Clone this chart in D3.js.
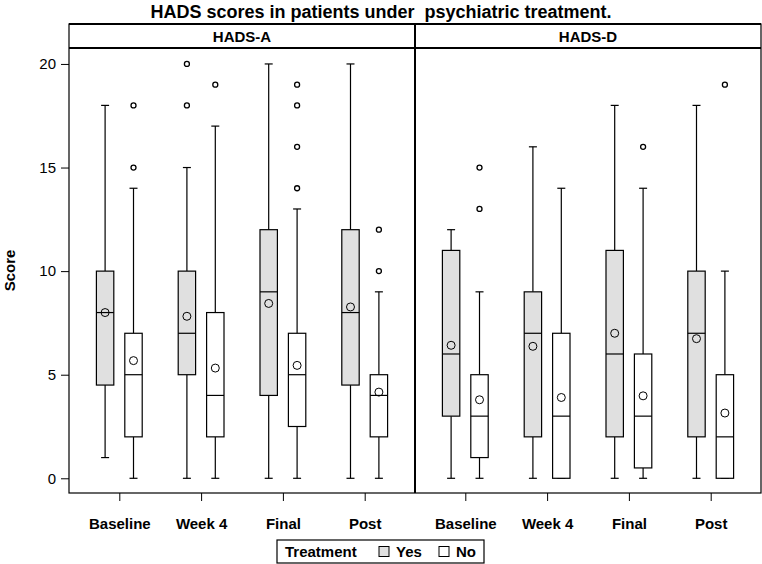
<!DOCTYPE html>
<html>
<head>
<meta charset="utf-8">
<script src="https://cdn.jsdelivr.net/npm/d3@7"></script>
<style>
  html, body { margin: 0; padding: 0; background: #fff; }
  svg { display: block; font-family: "Liberation Sans", Arial, Helvetica, sans-serif; }
</style>
</head>
<body>
<svg id="chart" width="762" height="564"></svg>
<script>
// ---- data ----
const title = "HADS scores in patients under  psychiatric treatment.";
const panels = ["HADS-A", "HADS-D"];
const visits = ["Baseline", "Week 4", "Final", "Post"];
const groups = ["Yes", "No"];
const yTicks = [0, 5, 10, 15, 20];
const yLabel = "Score";
const legendTitle = "Treatment";

// [lower whisker, Q1, median, Q3, upper whisker] per visit
const hadsA_yes = [[1, 4.5, 8, 10, 18], [0, 5, 7, 10, 15], [0, 4, 9, 12, 20], [0, 4.5, 8, 12, 20]];
const hadsA_no  = [[0, 2, 5, 7, 14], [0, 2, 4, 8, 17], [0, 2.5, 5, 7, 13], [0, 2, 4, 5, 9]];
const hadsD_yes = [[0, 3, 6, 11, 12], [0, 2, 7, 9, 16], [0, 2, 6, 11, 18], [0, 2, 7, 10, 18]];
const hadsD_no  = [[0, 1, 3, 5, 9], [0, 0, 3, 7, 14], [0, 0.5, 3, 6, 14], [0, 0, 2, 5, 10]];

const hadsA_yes_mean = [8.0, 7.82, 8.44, 8.27];
const hadsA_no_mean  = [5.68, 5.32, 5.45, 4.16];
const hadsD_yes_mean = [6.42, 6.37, 7.0, 6.74];
const hadsD_no_mean  = [3.79, 3.9, 3.98, 3.15];

const hadsA_yes_out = [[], [18, 20], [], []];
const hadsA_no_out  = [[15, 18], [19], [14, 16, 18, 19], [10, 12]];
const hadsD_yes_out = [[], [], [], []];
const hadsD_no_out  = [[13, 15], [], [16], [19]];

// assemble
const series = {
  "HADS-A": {
    Yes: { box: hadsA_yes, mean: hadsA_yes_mean, out: hadsA_yes_out },
    No:  { box: hadsA_no,  mean: hadsA_no_mean,  out: hadsA_no_out }
  },
  "HADS-D": {
    Yes: { box: hadsD_yes, mean: hadsD_yes_mean, out: hadsD_yes_out },
    No:  { box: hadsD_no,  mean: hadsD_no_mean,  out: hadsD_no_out }
  }
};

// ---- layout ----
const W = 762, H = 564;
const left = 69, right = 761;
const headTop = 24, headBot = 48, plotBot = 493;
const fillColor = { Yes: "#e0e0e0", No: "#ffffff" };
const font = "15px";

const svg = d3.select("#chart");

const panelScale = d3.scaleBand().domain(panels).range([left, right]).padding(0);
const y = d3.scaleLinear().domain([-0.71, 20.77]).range([plotBot, headBot]);
const offset = d3.scaleOrdinal().domain(groups).range([-14.2, 14.2]);
const boxW = 17.4, capW = 8;

// title
svg.append("text")
  .attr("x", W / 2).attr("y", 18)
  .attr("text-anchor", "middle")
  .style("font-size", "18px").style("font-weight", "bold")
  .style("white-space", "pre")
  .text(title);

// y label
svg.append("text")
  .attr("transform", `translate(15,${(headBot + plotBot) / 2}) rotate(-90)`)
  .attr("text-anchor", "middle")
  .style("font-size", font).style("font-weight", "bold")
  .text(yLabel);

// y axis
const yAxis = svg.append("g")
  .attr("transform", `translate(${left},0)`)
  .call(d3.axisLeft(y).tickValues(yTicks).tickSize(8).tickPadding(5));
yAxis.select(".domain").remove();
yAxis.selectAll("text").style("font-size", font).attr("fill", "#000");
yAxis.selectAll("line").attr("stroke", "#000");

panels.forEach(p => {
  const x0 = panelScale(p), x1 = x0 + panelScale.bandwidth();
  const x = d3.scalePoint().domain(visits).range([x0, x1]).padding(0.615);
  const g = svg.append("g");

  // header label
  g.append("text")
    .attr("x", (x0 + x1) / 2).attr("y", (headTop + headBot) / 2 + 5.5)
    .attr("text-anchor", "middle")
    .style("font-size", font).style("font-weight", "bold")
    .text(p);

  // x axis
  const xa = g.append("g")
    .attr("transform", `translate(0,${plotBot})`)
    .call(d3.axisBottom(x).tickSize(8).tickPadding(17));
  xa.select(".domain").remove();
  xa.selectAll("text").style("font-size", font).style("font-weight", "bold").attr("fill", "#000");
  xa.selectAll("line").attr("stroke", "#000");

  groups.forEach(gr => {
    const s = series[p][gr];
    visits.forEach((v, i) => {
      const [lo, q1, med, q3, hi] = s.box[i];
      const cx = x(v) + offset(gr);
      // whiskers
      g.append("line").attr("x1", cx).attr("x2", cx).attr("y1", y(q3)).attr("y2", y(hi))
        .attr("stroke", "#000").attr("stroke-width", 1.2);
      g.append("line").attr("x1", cx).attr("x2", cx).attr("y1", y(q1)).attr("y2", y(lo))
        .attr("stroke", "#000").attr("stroke-width", 1.2);
      g.append("line").attr("x1", cx - capW / 2).attr("x2", cx + capW / 2).attr("y1", y(hi)).attr("y2", y(hi))
        .attr("stroke", "#000").attr("stroke-width", 1.2);
      g.append("line").attr("x1", cx - capW / 2).attr("x2", cx + capW / 2).attr("y1", y(lo)).attr("y2", y(lo))
        .attr("stroke", "#000").attr("stroke-width", 1.2);
      // box
      g.append("rect")
        .attr("x", cx - boxW / 2).attr("width", boxW)
        .attr("y", y(q3)).attr("height", y(q1) - y(q3))
        .attr("fill", fillColor[gr]).attr("stroke", "#000").attr("stroke-width", 1.2);
      // median
      g.append("line").attr("x1", cx - boxW / 2).attr("x2", cx + boxW / 2).attr("y1", y(med)).attr("y2", y(med))
        .attr("stroke", "#000").attr("stroke-width", 1.2);
      // mean
      g.append("circle").attr("cx", cx).attr("cy", y(s.mean[i])).attr("r", 4)
        .attr("fill", "none").attr("stroke", "#000").attr("stroke-width", 1);
      // outliers
      s.out[i].forEach(o => {
        g.append("circle").attr("cx", cx).attr("cy", y(o)).attr("r", 2.5)
          .attr("fill", "none").attr("stroke", "#000").attr("stroke-width", 1.3);
      });
    });
  });
});

// frames
svg.append("rect").attr("x", left).attr("y", headTop).attr("width", right - left).attr("height", plotBot - headTop)
  .attr("fill", "none").attr("stroke", "#000").attr("stroke-width", 1.2);
svg.append("line").attr("x1", left).attr("x2", right).attr("y1", headTop).attr("y2", headTop)
  .attr("stroke", "#000").attr("stroke-width", 2);
svg.append("line").attr("x1", left).attr("x2", right).attr("y1", headBot).attr("y2", headBot)
  .attr("stroke", "#000").attr("stroke-width", 2);
const divX = panelScale(panels[1]);
svg.append("line").attr("x1", divX).attr("x2", divX).attr("y1", headTop).attr("y2", plotBot)
  .attr("stroke", "#000").attr("stroke-width", 2);

// legend
const lg = svg.append("g").attr("transform", "translate(277,540)");
lg.append("rect").attr("width", 207).attr("height", 23)
  .attr("fill", "#fff").attr("stroke", "#000").attr("stroke-width", 1.2);
lg.append("text").attr("x", 8).attr("y", 17)
  .style("font-size", font).style("font-weight", "bold").text(legendTitle);
const itemX = { Yes: 102, No: 162 };
groups.forEach(gr => {
  lg.append("rect").attr("x", itemX[gr]).attr("y", 6.5).attr("width", 10).attr("height", 10)
    .attr("fill", fillColor[gr]).attr("stroke", "#000").attr("stroke-width", 1);
  lg.append("text").attr("x", itemX[gr] + 17).attr("y", 17)
    .style("font-size", font).style("font-weight", "bold").text(gr);
});
</script>
</body>
</html>
